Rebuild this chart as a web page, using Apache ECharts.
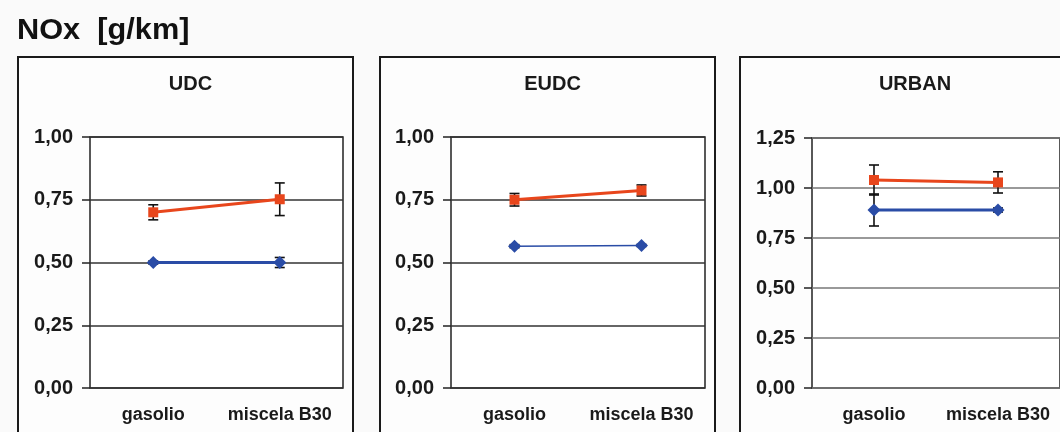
<!DOCTYPE html>
<html>
<head>
<meta charset="utf-8">
<script src="https://cdn.jsdelivr.net/npm/echarts@6/dist/echarts.min.js"></script>
<style>
  html, body { margin: 0; padding: 0; background: #fafafa; }
  #chart { width: 1060px; height: 432px; }
</style>
</head>
<body>
<div id="chart"></div>
<script>
// NOx emissions [g/km], diesel vs. B30 blend, per driving cycle
const categories = ['gasolio', 'miscela B30'];
const panelTitles = ['UDC', 'EUDC', 'URBAN'];
const yMax = [1.0, 1.0, 1.25];

// mean values (red = upper series, blue = lower series)
const udcRed = [0.70, 0.752];
const udcRedErr = [0.03, 0.065];
const udcBlue = [0.50, 0.50];
const udcBlueErr = [0.006, 0.02];

const eudcRed = [0.75, 0.787];
const eudcRedErr = [0.025, 0.022];
const eudcBlue = [0.565, 0.568];
const eudcBlueErr = [0.006, 0.004];

const urbanRed = [1.04, 1.028];
const urbanRedErr = [0.075, 0.053];
const urbanBlue = [0.89, 0.89];
const urbanBlueErr = [0.08, 0.01];

const RED = '#e8461c';
const BLUE = '#2a4ca6';
const FONT = 'Liberation Sans, Arial, sans-serif';

const grids = [
  { left: 90, top: 137, width: 253, height: 251 },
  { left: 451, top: 137, width: 254, height: 251 },
  { left: 812, top: 138, width: 254, height: 250 }
];
const frames = [
  { x: 18, y: 57, w: 335 },
  { x: 380, y: 57, w: 335 },
  { x: 740, y: 57, w: 340 }
];

const panels = [
  { red: udcRed, redErr: udcRedErr, blue: udcBlue, blueErr: udcBlueErr, blueW: 3 },
  { red: eudcRed, redErr: eudcRedErr, blue: eudcBlue, blueErr: eudcBlueErr, blueW: 1.5 },
  { red: urbanRed, redErr: urbanRedErr, blue: urbanBlue, blueErr: urbanBlueErr, blueW: 3 }
];

function errorBarItem(params, api) {
  const x = api.value(0);
  const hi = api.coord([x, api.value(1) + api.value(2)]);
  const lo = api.coord([x, api.value(1) - api.value(2)]);
  const cap = 5;
  const style = { stroke: '#111', lineWidth: 1.6 };
  return {
    type: 'group',
    children: [
      { type: 'line', shape: { x1: hi[0], y1: hi[1], x2: lo[0], y2: lo[1] }, style: style },
      { type: 'line', shape: { x1: hi[0] - cap, y1: hi[1], x2: hi[0] + cap, y2: hi[1] }, style: style },
      { type: 'line', shape: { x1: lo[0] - cap, y1: lo[1], x2: lo[0] + cap, y2: lo[1] }, style: style }
    ]
  };
}

const xAxes = [], yAxes = [], series = [], titles = [];
panels.forEach((p, i) => {
  const f = frames[i];
  titles.push({
    text: panelTitles[i],
    left: f.x + f.w / 2, top: 69, textAlign: 'center',
    textStyle: { fontFamily: FONT, fontSize: 20, fontWeight: 'bold', color: '#1a1a1a' }
  });
  xAxes.push({
    type: 'category', gridIndex: i, data: categories, boundaryGap: true,
    axisLine: { show: false }, axisTick: { show: false },
    axisLabel: { interval: 0, fontFamily: FONT, fontSize: 18, fontWeight: 'bold', color: '#1a1a1a', margin: 18 }
  });
  yAxes.push({
    type: 'value', gridIndex: i, min: 0, max: yMax[i], interval: 0.25,
    axisLine: { show: false },
    axisTick: { show: true, length: 8, lineStyle: { color: '#222', width: 1.5 } },
    splitLine: { lineStyle: { color: i === 2 ? '#777' : '#333', width: 1.5 } },
    axisLabel: {
      fontFamily: FONT, fontSize: 20, fontWeight: 'bold', color: '#1a1a1a', margin: 17,
      formatter: v => v.toFixed(2).replace('.', ',')
    }
  });
  const mk = (vals, errs) => vals.map((v, k) => [k, v, errs[k]]);
  series.push({
    type: 'custom', xAxisIndex: i, yAxisIndex: i, renderItem: errorBarItem,
    data: mk(p.red, p.redErr), z: 3, encode: { x: 0, y: 1 }
  });
  series.push({
    type: 'custom', xAxisIndex: i, yAxisIndex: i, renderItem: errorBarItem,
    data: mk(p.blue, p.blueErr), z: 3, encode: { x: 0, y: 1 }
  });
  series.push({
    type: 'line', xAxisIndex: i, yAxisIndex: i, data: p.red, z: 4,
    symbol: 'rect', symbolSize: 10, color: RED,
    lineStyle: { color: RED, width: 3 }, itemStyle: { color: RED }
  });
  series.push({
    type: 'line', xAxisIndex: i, yAxisIndex: i, data: p.blue, z: 4,
    symbol: 'diamond', symbolSize: 13, color: BLUE,
    lineStyle: { color: BLUE, width: p.blueW }, itemStyle: { color: BLUE }
  });
});

const graphics = frames.map(f => ({
  type: 'rect', z: -10,
  shape: { x: f.x, y: f.y, width: f.w, height: 420 },
  style: { fill: '#fdfdfd', stroke: '#1a1a1a', lineWidth: 2 }
}));
graphics.push({
  type: 'text', left: 17, top: 16, scaleX: 1.06,
  style: { text: 'NOx  [g/km]', fontFamily: FONT, fontSize: 29, fontWeight: 'bold', fill: '#111' }
});

const chart = echarts.init(document.getElementById('chart'), null, { renderer: 'canvas' });
chart.setOption({
  backgroundColor: '#fafafa',
  animation: false,
  title: titles,
  grid: grids.map(g => Object.assign({ show: true, backgroundColor: '#fff', borderColor: '#222', borderWidth: 1.5 }, g)),
  xAxis: xAxes,
  yAxis: yAxes,
  series: series,
  graphic: graphics
});
</script>
</body>
</html>
